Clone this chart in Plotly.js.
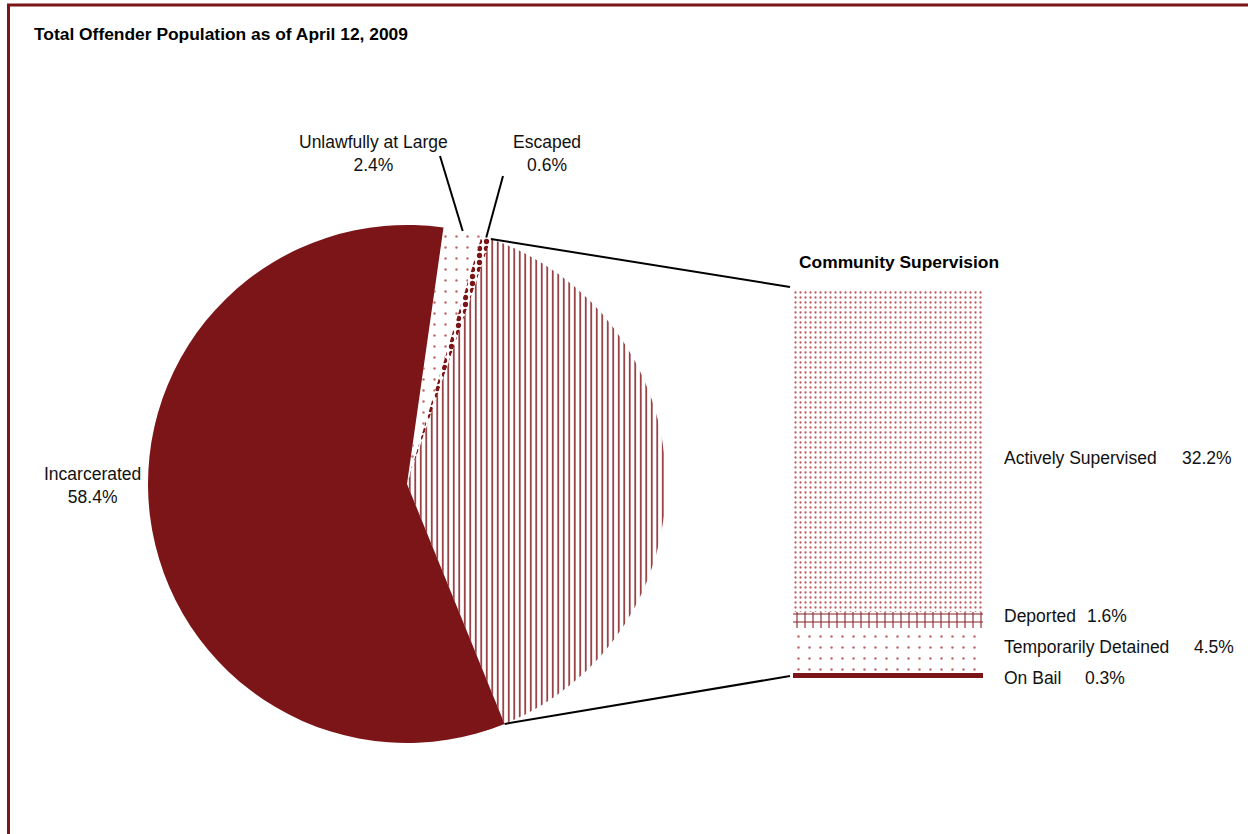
<!DOCTYPE html>
<html>
<head>
<meta charset="utf-8">
<script src="https://cdn.plot.ly/plotly-3.0.1.min.js"></script>
<style>
html,body{margin:0;padding:0;background:#fff;}
#chart{width:1248px;height:834px;}
</style>
</head>
<body>
<div id="chart"></div>
<script>
// ---- data ----
var chartTitle = "Total Offender Population as of April 12, 2009";
var pieLabels = ["Unlawfully at Large", "Escaped", "Community Supervision", "Incarcerated"];
var pieOwnValues = [2.4, 0.6, null, 58.4];           // Community Supervision = sum of bar values
var barLabels = ["On Bail", "Temporarily Detained", "Deported", "Actively Supervised"];
var barValues = [0.3, 4.5, 1.6, 32.2];

var communityTotal = barValues.reduce(function(a, b){ return a + b; }, 0);
var pieValues = pieOwnValues.map(function(v){ return v === null ? Math.round(communityTotal*10)/10 : v; });

// ---- geometry / style ----
var W = 1248, H = 834;
var RED = "#7B1518";
var FONT = "'Liberation Sans', Arial, sans-serif";
function px(x){ return x / W; }
function py(y){ return 1 - y / H; }

var pieCx = 407, pieCy = 484, pieR = 259;
var pieRotation = 8.1;
var barLeft = 793, barRight = 983, barBottom = 676, barTop = 290;
var pxPerUnit = (barBottom - barTop) / communityTotal;
var padUnits = 0.6;   // room below zero so the bottom bar outline is not clipped

var pieTotal = pieValues.reduce(function(a,b){return a+b;},0);
var angles = [pieRotation];
pieValues.forEach(function(v,i){ angles.push(angles[i] + v / pieTotal * 360); });
function piePoint(deg){
  var r = deg * Math.PI / 180;
  return [pieCx + pieR * Math.sin(r), pieCy - pieR * Math.cos(r)];
}

var pieTrace = {
  type: "pie",
  labels: pieLabels,
  values: pieValues,
  sort: false,
  direction: "clockwise",
  rotation: pieRotation,
  textinfo: "none",
  hoverinfo: "label+percent",
  showlegend: false,
  domain: { x: [px(pieCx - pieR), px(pieCx + pieR)], y: [py(pieCy + pieR), py(pieCy - pieR)] },
  marker: {
    colors: ["#ffffff", "#ffffff", "#ffffff", RED],
    line: { width: 0 },
    pattern: {
      shape: [".", ".", "|", ""],
      fgcolor: ["#c0686c", RED, "#862024", RED],
      bgcolor: ["#ffffff", "#ffffff", "#ffffff", RED],
      size: [11, 7, 5.5, 8],
      solidity: [0.04, 0.45, 0.28, 0.3]
    }
  }
};

var barStyles = {
  "On Bail": { color: RED, pattern: { shape: "" }, line: { color: RED, width: 4 } },
  "Temporarily Detained": { color: "#ffffff", pattern: { shape: ".", fgcolor: "#c0686c", bgcolor: "#ffffff", size: 11, solidity: 0.04 }, line: { width: 0 } },
  "Deported": { color: "#ffffff", pattern: { shape: "+", fgcolor: "#862024", bgcolor: "#ffffff", size: 8, solidity: 0.25 }, line: { width: 0 } },
  "Actively Supervised": { color: "#ffffff", pattern: { shape: ".", fgcolor: "#c05a5e", bgcolor: "#ffffff", size: 5, solidity: 0.16 }, line: { width: 0 } }
};

var barTraces = barLabels.map(function(lab, i){
  var s = barStyles[lab];
  return {
    type: "bar",
    name: lab,
    x: [0],
    y: [barValues[i]],
    width: 1,
    xaxis: "x",
    yaxis: "y",
    showlegend: false,
    cliponaxis: false,
    hoverinfo: "name+y",
    marker: { color: s.color, pattern: s.pattern, line: s.line }
  };
});

var topPt = piePoint(angles[2]);
var botPt = piePoint(angles[3]);
var unlMid = piePoint((angles[0] + angles[1]) / 2);
var escMid = piePoint((angles[1] + angles[2]) / 2);

function line(x0,y0,x1,y1,color,width){
  return { type: "line", xref: "paper", yref: "paper", x0: px(x0), y0: py(y0), x1: px(x1), y1: py(y1),
           line: { color: color, width: width } };
}

var shapes = [
  line(7, 5, W, 5, RED, 3),
  line(8.5, 4, 8.5, H, RED, 3),
  line(topPt[0], topPt[1], barLeft - 3, barTop - 3, "#000", 2),
  line(botPt[0], botPt[1], barLeft - 3, barBottom, "#000", 2),
  line(440, 156, unlMid[0], unlMid[1], "#000", 2),
  line(503, 176, escMid[0], escMid[1], "#000", 2)
];

function ann(text, x, y, xanchor, opts){
  var a = { text: text, x: px(x), y: py(y), xref: "paper", yref: "paper", showarrow: false,
            xanchor: xanchor, yanchor: "middle", align: xanchor === "left" ? "left" : "center",
            font: { family: FONT, size: 17.5, color: "#111" } };
  if (opts) for (var k in opts) a[k] = opts[k];
  return a;
}

function pct(v){ return v.toFixed(1) + "%"; }

var barValueX = { "Actively Supervised": 1180, "Deported": 1085, "Temporarily Detained": 1192, "On Bail": 1083 };
var barLabelY = { "Actively Supervised": 458, "Deported": 616, "Temporarily Detained": 647, "On Bail": 678 };

var annotations = [
  ann("<b>" + chartTitle + "</b>", 32, 34, "left", { font: { family: FONT, size: 17.4, color: "#000" } }),
  ann(pieLabels[0] + "<br>" + pct(pieValues[0]), 373, 154, "center"),
  ann(pieLabels[1] + "<br>" + pct(pieValues[1]), 547, 154, "center"),
  ann(pieLabels[3] + "<br>" + pct(pieValues[3]), 92, 485, "center"),
  ann("<b>" + pieLabels[2] + "</b>", 797, 262, "left", { font: { family: FONT, size: 17.4, color: "#000" } })
];
barLabels.forEach(function(lab, i){
  annotations.push(ann(lab, 1002, barLabelY[lab], "left"));
  annotations.push(ann(pct(barValues[i]), barValueX[lab], barLabelY[lab], "left"));
});

var layout = {
  width: W, height: H,
  margin: { l: 0, r: 0, t: 0, b: 0 },
  paper_bgcolor: "#ffffff",
  plot_bgcolor: "rgba(0,0,0,0)",
  barmode: "stack",
  bargap: 0,
  xaxis: { domain: [px(barLeft), px(barRight)], range: [-0.5, 0.5], visible: false, fixedrange: true },
  yaxis: { domain: [py(barBottom + padUnits * pxPerUnit), py(barTop)], range: [-padUnits, communityTotal], visible: false, fixedrange: true },
  shapes: shapes,
  annotations: annotations,
  showlegend: false
};

Plotly.newPlot("chart", [pieTrace].concat(barTraces), layout, { displayModeBar: false, staticPlot: true });
</script>
</body>
</html>
